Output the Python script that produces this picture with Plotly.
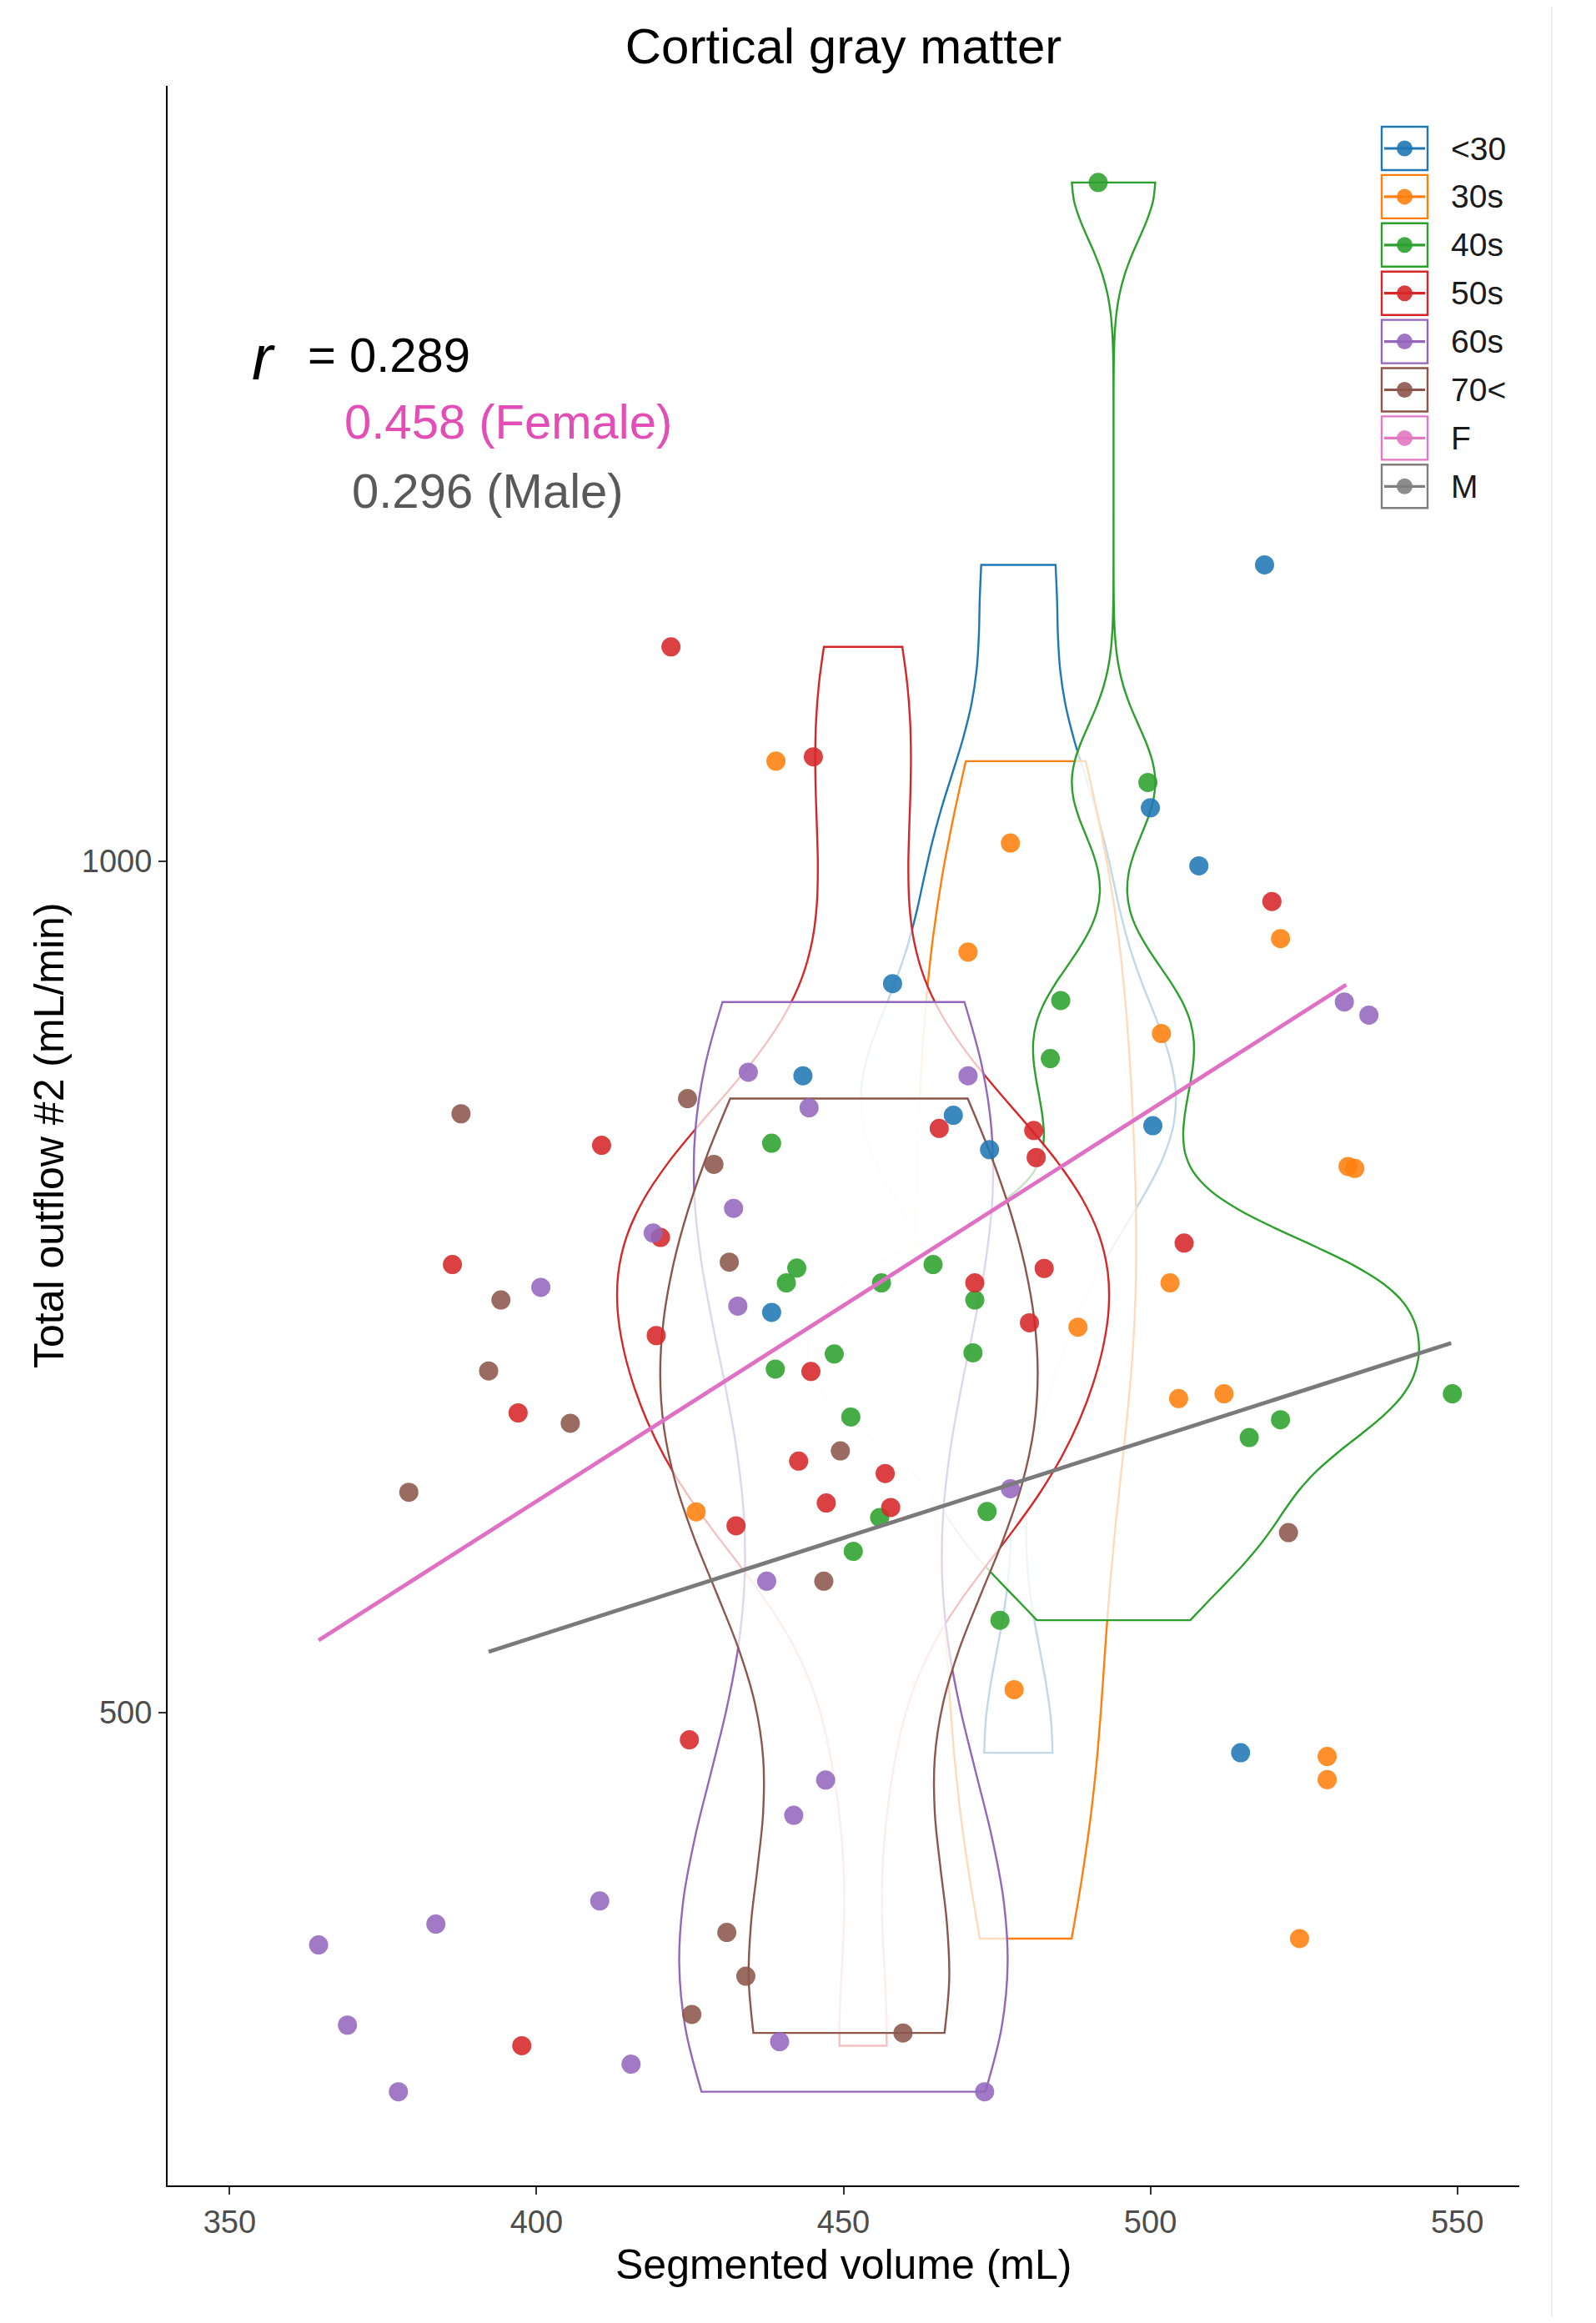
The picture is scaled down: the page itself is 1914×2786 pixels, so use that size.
import numpy as np
import plotly.graph_objects as go

# ---------------- data ----------------
groups = ["<30", "30s", "40s", "50s", "60s", "70<"]
colors = ["#1f77b4", "#ff7f0e", "#2ca02c", "#d62728", "#9467bd", "#8c564b"]

vol_u30 = [518.6, 500.0, 507.9, 458.0, 443.4, 467.9, 473.8, 500.4, 438.3, 514.7]
out_u30 = [1173.8, 1031.2, 997.1, 928.0, 873.9, 850.7, 830.5, 844.6, 735.0, 476.5]

vol_30s = [439.0, 477.2, 470.3, 521.2, 501.8, 532.2, 533.3, 503.2, 488.2, 504.6,
           512.0, 426.0, 477.8, 528.8, 528.8, 524.3]
out_30s = [1058.6, 1010.5, 946.5, 954.4, 898.7, 820.7, 819.5, 752.3, 726.3, 684.4,
           687.2, 617.9, 513.5, 474.3, 460.7, 367.4]

vol_40s = [491.5, 499.6, 485.4, 483.7, 438.3, 442.4, 440.7, 456.2, 464.6, 471.4,
           448.5, 471.1, 438.9, 451.2, 549.2, 521.2, 516.1, 473.4, 455.9, 451.6, 475.5]
out_40s = [1398.3, 1046.1, 918.1, 884.0, 834.3, 761.0, 752.3, 752.3, 763.1, 742.3,
           710.6, 711.3, 701.7, 673.6, 687.2, 672.0, 661.5, 618.1, 614.6, 594.7, 554.3]

vol_50s = [421.9, 445.1, 519.8, 410.6, 465.6, 481.0, 481.4, 386.3, 420.2, 482.7,
           471.4, 505.5, 419.5, 444.7, 480.3, 397.0, 442.7, 456.8, 447.2, 457.7,
           432.5, 424.9, 397.6]
out_50s = [1125.7, 1061.1, 976.2, 833.1, 843.0, 841.8, 825.9, 763.1, 779.0, 760.8,
           752.3, 775.7, 721.4, 700.3, 728.9, 676.0, 647.7, 640.4, 623.1, 620.5,
           609.7, 484.1, 304.5]

vol_60s = [531.6, 535.6, 434.5, 470.3, 444.4, 432.1, 419.0, 400.7, 432.8, 477.2,
           437.5, 447.1, 441.9, 410.3, 383.6, 364.5, 369.2, 439.6, 415.4, 377.5, 473.0]
out_60s = [917.2, 909.5, 876.0, 873.9, 855.1, 796.1, 781.6, 749.7, 738.7, 631.5,
           577.2, 460.5, 439.8, 389.5, 375.9, 363.7, 316.6, 306.9, 293.7, 277.5, 277.5]

vol_70s = [387.7, 424.6, 428.9, 431.4, 394.2, 392.2, 405.5, 449.5, 379.2, 522.5,
           446.8, 431.0, 434.1, 425.3, 459.7]
out_70s = [851.6, 860.5, 821.9, 764.5, 742.3, 700.6, 669.9, 653.7, 629.4, 605.7,
           577.2, 371.0, 345.3, 322.9, 312.0]

volumes = [vol_u30, vol_30s, vol_40s, vol_50s, vol_60s, vol_70s]
outflows = [out_u30, out_30s, out_40s, out_50s, out_60s, out_70s]

# violin centres and maximal widths (mL)
violin_x = [478.5, 479.7, 494.0, 453.2, 450.0, 450.9]
violin_w = [51.2, 36.0, 99.4, 80.0, 53.5, 61.5]

# regression lines (Female / Male)
fit_f_x = [364.5, 531.9]
fit_f_y = [542.5, 927.3]
fit_m_x = [392.2, 549.0]
fit_m_y = [535.8, 717.0]

r_all, r_female, r_male = "0.289", "0.458", "0.296"

x_ticks = [350, 400, 450, 500, 550]
y_ticks = [500, 1000]

# ---------------- helpers ----------------
OFF = 8  # default page body margin
W_FIG, H_FIG = 1914 - 2 * OFF, 2786 - 2 * OFF
# plot-area edges in page pixels
L_PG, R_PG, T_PG, B_PG = 201, 1822, 103, 2621
L, R, T, B = L_PG - OFF, R_PG - OFF, T_PG - OFF, B_PG - OFF
PW, PH = R - L, B - T
FONT = "Liberation Sans, Arial, sans-serif"


def px2x(px):
    """page pixel -> paper x"""
    return (px - OFF - L) / PW


def px2y(py):
    """page pixel -> paper y"""
    return (B - (py - OFF)) / PH


def nrd0(v):
    v = np.asarray(v, dtype=float)
    sd = v.std(ddof=1)
    q75, q25 = np.percentile(v, [75, 25])
    lo = min(sd, (q75 - q25) / 1.34)
    if lo <= 0:
        lo = sd
    return 0.9 * lo * len(v) ** -0.2


fig = go.Figure()

# violins (drawn in group order, semi-transparent white fill)
for i, g in enumerate(groups):
    fig.add_trace(go.Violin(
        x0=violin_x[i], y=outflows[i], name=g,
        width=violin_w[i], scalemode="width", scalegroup="g%d" % i,
        spanmode="hard", bandwidth=nrd0(outflows[i]),
        line=dict(color=colors[i], width=2.4),
        fillcolor="rgba(255,255,255,0.72)",
        points=False, box_visible=False, meanline_visible=False,
        showlegend=False, hoverinfo="skip",
    ))

# points
for i, g in enumerate(groups):
    fig.add_trace(go.Scatter(
        x=volumes[i], y=outflows[i], mode="markers", name=g,
        marker=dict(color=colors[i], size=23, opacity=0.88, line=dict(width=0)),
        showlegend=False,
    ))

# fitted lines
fig.add_trace(go.Scatter(x=fit_f_x, y=fit_f_y, mode="lines", name="F",
                         line=dict(color="#E070C4", width=4.8), showlegend=False))
fig.add_trace(go.Scatter(x=fit_m_x, y=fit_m_y, mode="lines", name="M",
                         line=dict(color="#7a7a7a", width=4.8), showlegend=False))

# ---------------- manual legend ----------------
shapes = []
annotations = []
leg_items = groups + ["F", "M"]
leg_colors = colors + ["#e377c2", "#7f7f7f"]
for k, (lab, col) in enumerate(zip(leg_items, leg_colors)):
    cy = 178 + k * 57.9
    shapes.append(dict(type="rect", xref="paper", yref="paper",
                       x0=px2x(1657), x1=px2x(1712), y0=px2y(cy + 26), y1=px2y(cy - 26),
                       line=dict(color=col, width=2.4), fillcolor="white"))
    shapes.append(dict(type="line", xref="paper", yref="paper",
                       x0=px2x(1660), x1=px2x(1709), y0=px2y(cy), y1=px2y(cy),
                       line=dict(color=col, width=3.2)))
    shapes.append(dict(type="circle", xref="paper", yref="paper",
                       x0=px2x(1684.5 - 9.5), x1=px2x(1684.5 + 9.5),
                       y0=px2y(cy + 9.5), y1=px2y(cy - 9.5),
                       line=dict(width=0), fillcolor=col, opacity=0.9))
    annotations.append(dict(text=lab, xref="paper", yref="paper",
                            x=px2x(1738), y=px2y(cy), xanchor="left", yanchor="middle",
                            showarrow=False, font=dict(family=FONT, size=39, color="#1a1a1a")))

# right border line of the original image
shapes.append(dict(type="line", xref="paper", yref="paper",
                   x0=px2x(1861), x1=px2x(1861), y0=px2y(OFF), y1=px2y(2786 - OFF),
                   line=dict(color="#ececec", width=2)))

# correlation text
annotations += [
    dict(text="<i>r</i>", xref="paper", yref="paper", x=px2x(300), y=px2y(428),
         xanchor="left", yanchor="middle", showarrow=False,
         font=dict(family=FONT, size=76, color="black")),
    dict(text="= " + r_all, xref="paper", yref="paper", x=px2x(367), y=px2y(425),
         xanchor="left", yanchor="middle", showarrow=False,
         font=dict(family=FONT, size=58, color="black")),
    dict(text=r_female + " (Female)", xref="paper", yref="paper", x=px2x(411), y=px2y(506),
         xanchor="left", yanchor="middle", showarrow=False,
         font=dict(family=FONT, size=58, color="#E34DB6")),
    dict(text=r_male + " (Male)", xref="paper", yref="paper", x=px2x(420), y=px2y(588),
         xanchor="left", yanchor="middle", showarrow=False,
         font=dict(family=FONT, size=58, color="#595959")),
    # axis titles
    dict(text="Segmented volume (mL)", xref="paper", yref="paper", x=0.5, y=px2y(2716),
         xanchor="center", yanchor="middle", showarrow=False,
         font=dict(family=FONT, size=50, color="black")),
    dict(text="Total outflow #2 (mL/min)", xref="paper", yref="paper", x=px2x(59), y=0.5,
         xanchor="center", yanchor="middle", showarrow=False, textangle=-90,
         font=dict(family=FONT, size=50, color="black")),
]

fig.update_layout(
    width=W_FIG, height=H_FIG,
    margin=dict(l=L, r=W_FIG - R, t=T, b=H_FIG - B, pad=0),
    paper_bgcolor="white", plot_bgcolor="white",
    violinmode="overlay",
    title=dict(text="Cortical gray matter", x=0.5, xref="paper", xanchor="center",
               y=1 - (55 - OFF) / H_FIG, yref="container", yanchor="middle",
               font=dict(family=FONT, size=60, color="black")),
    xaxis=dict(range=[339.9, 560.1], tickvals=x_ticks, ticktext=[str(v) for v in x_ticks],
               showgrid=False, zeroline=False, showline=True, linecolor="black", linewidth=2,
               ticks="outside", ticklen=9, tickwidth=2, tickcolor="#333333",
               tickfont=dict(family=FONT, size=38, color="#4d4d4d"), automargin=False),
    yaxis=dict(range=[222.5, 1455], tickvals=y_ticks, ticktext=[str(v) for v in y_ticks],
               showgrid=False, zeroline=False, showline=True, linecolor="black", linewidth=2,
               ticks="outside", ticklen=9, tickwidth=2, tickcolor="#333333",
               tickfont=dict(family=FONT, size=38, color="#4d4d4d"), automargin=False),
    shapes=shapes,
    annotations=annotations,
    showlegend=False,
    font=dict(family=FONT),
)

fig.write_html("out.html")
